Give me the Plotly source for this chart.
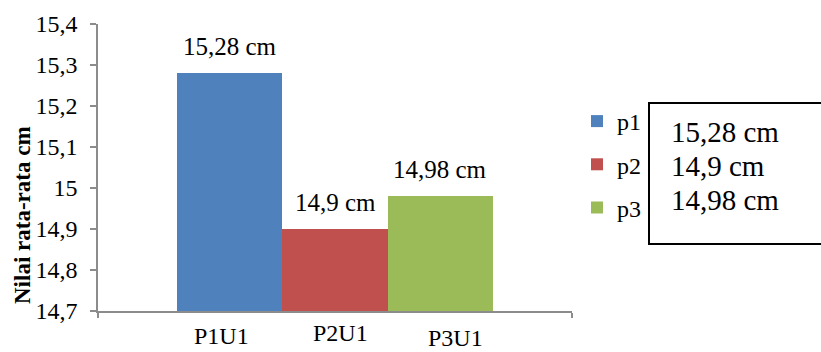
import plotly.graph_objects as go

# Mean plant height per treatment
categories = ["P1U1", "P2U1", "P3U1"]
series_names = ["p1", "p2", "p3"]
values = [15.28, 14.9, 14.98]
unit = "cm"

colors = ["#4F81BD", "#C0504D", "#9BBB59"]
serif = "Liberation Serif, Times New Roman, serif"

# size of the canvas and the plotting area, in pixels
W, H = 821, 352
L, R, T, B = 98, 249, 24, 41
plot_w, plot_h = W - L - R, H - T - B


def px_x(p):
    return (p - L) / plot_w


def px_y(p):
    return (H - B - p) / plot_h


def fmt(v):
    s = f"{v:.2f}".rstrip("0").rstrip(".")
    return s.replace(".", ",") + " " + unit


positions = list(range(len(categories)))
x_range = [-1.254, 3.254]

fig = go.Figure()
for pos, name, val, col in zip(positions, series_names, values, colors):
    fig.add_trace(go.Bar(
        x=[pos], y=[val], name=name, width=1,
        marker=dict(color=col, line=dict(width=0)),
        legendgroup=name,
    ))

annotations = []
# value labels above the bars
for pos, val in zip(positions, values):
    annotations.append(dict(
        x=pos, y=val, xref="x", yref="y", text=fmt(val),
        showarrow=False, yanchor="bottom", yshift=11,
        font=dict(family=serif, size=25, color="black"),
    ))

# category labels under the axis (placed as free text boxes)
label_shift = [(-8, 0), (5, 3), (15, -2)]
for pos, cat, (dx, dy) in zip(positions, categories, label_shift):
    annotations.append(dict(
        x=pos, y=0, xref="x", yref="paper", text=cat,
        showarrow=False, yanchor="middle", yshift=-25 + dy, xshift=dx,
        font=dict(family=serif, size=24, color="black"),
    ))

# y-axis title
annotations.append(dict(
    x=px_x(22), y=px_y(215), xref="paper", yref="paper",
    text="<b>Nilai rata-rata cm</b>", textangle=-90, showarrow=False,
    xanchor="center", yanchor="middle",
    font=dict(family=serif, size=23, color="black"),
))

# boxed list of the values beside the legend, one line per bar
for i, v in enumerate(values):
    annotations.append(dict(
        x=px_x(669), y=px_y(132 + 34 * i), xref="paper", yref="paper",
        text=fmt(v), showarrow=False,
        xanchor="left", yanchor="middle", align="left",
        font=dict(family=serif, size=29, color="black"),
    ))

shapes = [dict(
    type="rect", xref="paper", yref="paper",
    x0=px_x(649), x1=px_x(830), y0=px_y(244), y1=px_y(103),
    line=dict(color="black", width=2), fillcolor="rgba(0,0,0,0)",
)]

axis_gray = "#8C8C8C"
fig.update_layout(
    width=W, height=H,
    margin=dict(l=L, r=R, t=T, b=B, pad=0),
    paper_bgcolor="white", plot_bgcolor="white",
    separators=",.",
    showlegend=True,
    bargap=0,
    legend=dict(
        x=px_x(577), y=px_y(99), xanchor="left", yanchor="top",
        font=dict(family=serif, size=24, color="black"),
        traceorder="grouped", tracegroupgap=9,
        bgcolor="rgba(0,0,0,0)", borderwidth=0,
    ),
    xaxis=dict(
        range=x_range, showgrid=False, zeroline=False,
        showline=True, linecolor=axis_gray, linewidth=1.5,
        tickvals=x_range, ticks="outside", ticklen=5,
        tickcolor=axis_gray, tickwidth=1.5, showticklabels=False,
    ),
    yaxis=dict(
        range=[14.7, 15.4], dtick=0.1, tick0=14.7,
        showgrid=False, zeroline=False,
        showline=True, linecolor=axis_gray, linewidth=1.5,
        ticks="outside", ticklen=6, tickcolor=axis_gray, tickwidth=1.5,
        tickfont=dict(family=serif, size=24, color="black"),
        ticklabelstandoff=8,
    ),
    annotations=annotations,
    shapes=shapes,
)

fig.write_html("out.html")
